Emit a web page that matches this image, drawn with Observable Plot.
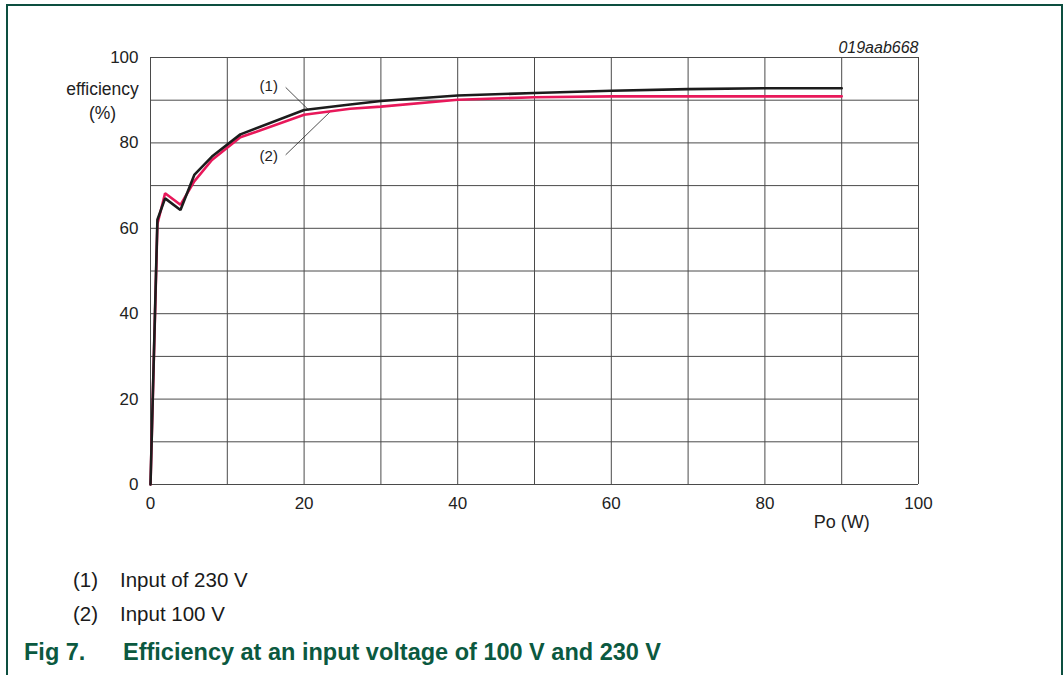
<!DOCTYPE html>
<html>
<head>
<meta charset="utf-8">
<script src="https://cdn.jsdelivr.net/npm/d3@7"></script>
<script src="https://cdn.jsdelivr.net/npm/@observablehq/plot@0.6"></script>
<style>
  html, body { margin: 0; padding: 0; background: #fff; overflow: hidden; }
  #page { position: relative; width: 1063px; height: 675px; font-family: "Liberation Sans", Arial, sans-serif; }
  #frame { position: absolute; left: 6px; top: 4px; width: 1053px; height: 700px;
           border-top: 2px solid #0d4f40; border-left: 2px solid #0d4f40; border-right: 2px solid #0d4f40; }
  #chart { position: absolute; left: 0; top: 0; }
  .leg { position: absolute; font-size: 20.5px; color: #1a1a1a; line-height: 1; }
  #title { position: absolute; left: 24px; top: 641px; font-size: 23.5px; font-weight: bold; color: #0b5940; line-height: 1; white-space: pre; }
</style>
</head>
<body>
<div id="page">
  <div id="frame"></div>
  <div id="chart"></div>
  <div class="leg" style="left:73px; top:570px;">(1)</div>
  <div class="leg" style="left:120px; top:570px;">Input of 230 V</div>
  <div class="leg" style="left:73px; top:604px;">(2)</div>
  <div class="leg" style="left:120px; top:604px;">Input 100 V</div>
  <div id="title"><span>Fig 7.</span><span style="position:absolute; left:99px;">Efficiency at an input voltage of 100 V and 230 V</span></div>
</div>
<script>
// ---- data ----
const po230  = [0, 0.9, 1.9, 3.9, 5.7, 8.0, 11.7, 20, 26, 30, 40, 50, 60, 70, 80, 90];
const eff230 = [0, 62.0, 67.0, 64.3, 72.5, 76.8, 82.0, 87.7, 89.0, 89.8, 91.1, 91.7, 92.2, 92.6, 92.8, 92.8];
const po100  = [0, 0.9, 1.9, 3.9, 5.7, 8.0, 11.7, 20, 26, 30, 40, 50, 60, 70, 80, 90];
const eff100 = [0, 61.0, 68.2, 65.5, 71.0, 76.0, 81.3, 86.6, 88.0, 88.5, 90.1, 90.7, 90.9, 90.9, 90.9, 90.9];

const xTicks = [0, 20, 40, 60, 80, 100];
const yTicks = [0, 20, 40, 60, 80, 100];
const xGrid = [0, 10, 20, 30, 40, 50, 60, 70, 80, 90, 100];
const yGrid = [0, 10, 20, 30, 40, 50, 60, 70, 80, 90, 100];

const curveLabels = ["(1)", "(2)"];
const curveLabelX = [15.4, 15.4];
const curveLabelY = [93.3, 77.0];
const leaderX1 = [17.6, 17.6];
const leaderY1 = [93.0, 77.2];
const leaderX2 = [20.6, 23.4];
const leaderY2 = [87.7, 87.3];

const yTitle = ["efficiency", "(%)"];
const yTitleY = [92.5, 86.9];
const xTitle = "Po (W)";
const figCode = "019aab668";

// ---- build tables ----
const s230 = po230.map((x, i) => ({x, y: eff230[i]}));
const s100 = po100.map((x, i) => ({x, y: eff100[i]}));
const labels = curveLabels.map((t, i) => ({t, x: curveLabelX[i], y: curveLabelY[i]}));
const leaders = leaderX1.map((x1, i) => ({x1, y1: leaderY1[i], x2: leaderX2[i], y2: leaderY2[i]}));
const yTitles = yTitle.map((t, i) => ({t, y: yTitleY[i]}));

const chart = Plot.plot({
  width: 1063,
  height: 675,
  marginLeft: 150,
  marginRight: 145,
  marginTop: 57,
  marginBottom: 191,
  style: {fontFamily: "'Liberation Sans', Arial, sans-serif", fontSize: "17px", color: "#222", background: "transparent"},
  x: {domain: [0, 100]},
  y: {domain: [0, 100]},
  marks: [
    Plot.ruleX(xGrid, {stroke: "#4a4a4a", strokeWidth: 1}),
    Plot.ruleY(yGrid, {stroke: "#4a4a4a", strokeWidth: 1}),
    Plot.axisX({ticks: xTicks, tickSize: 0, tickPadding: 12, label: null, fontSize: 17}),
    Plot.axisY({ticks: yTicks, tickSize: 0, tickPadding: 12, label: null, fontSize: 17}),
    Plot.link(leaders, {x1: "x1", y1: "y1", x2: "x2", y2: "y2", stroke: "#222", strokeWidth: 0.8}),
    Plot.text(labels, {x: "x", y: "y", text: "t", fontSize: 15, fill: "#222", stroke: "white", strokeWidth: 9}),
    Plot.line(s100, {x: "x", y: "y", stroke: "#e8185a", strokeWidth: 2.6, strokeLinejoin: "miter"}),
    Plot.line(s230, {x: "x", y: "y", stroke: "#1c1c1c", strokeWidth: 2.6, strokeLinejoin: "miter"}),
    Plot.text(yTitles, {x: () => 0, y: "y", text: "t", dx: -48, fontSize: 17.5, fill: "#222"}),
    Plot.text([xTitle], {x: () => 90, y: () => 0, text: d => d, dy: 38, fontSize: 18, fill: "#222"}),
    Plot.text([figCode], {x: () => 100, y: () => 100, text: d => d, dy: -10, textAnchor: "end", fontSize: 16, fontStyle: "italic", fill: "#222"})
  ]
});
document.getElementById("chart").appendChild(chart);
</script>
</body>
</html>
